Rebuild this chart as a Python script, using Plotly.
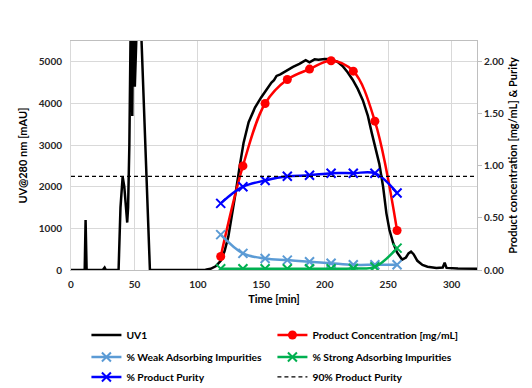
import plotly.graph_objects as go

# UV chromatogram
uv_time = [0, 10.8, 11.5, 12.3, 25, 26.5, 27.5, 37.5, 39, 40.7, 42, 43.5, 44.3, 45, 46, 47, 47.6, 48.3,
           49, 50.3, 51, 53, 55.6, 62.2, 100, 106, 110, 114, 118, 121, 124, 127, 130, 133, 136, 140,
           145, 150, 155, 158, 160, 162, 165, 170, 173, 175, 180, 185, 188, 190, 192, 195, 200, 205,
           210, 214, 218, 222, 226, 230, 234, 237, 240, 243, 246, 248.6, 251, 254, 257, 261, 264, 266,
           268, 270, 273, 277, 281, 288, 293, 294.5, 296, 305, 320]
uv_value = [0, 0, 1200, 0, 0, 60, 0, 0, 1500, 2240, 2000, 1300, 1140, 1500, 3000, 5800, 6500, 3700,
            6500, 4400, 6500, 7000, 5500, 0, 0, 5, 30, 90, 220, 450, 800, 1300, 1900, 2500, 3050, 3550,
            3900, 4150, 4380, 4500, 4560, 4660, 4700, 4800, 4850, 4880, 4950, 5040, 4990, 5030, 5060, 5050, 5070, 5060,
            5000, 4900, 4750, 4570, 4350, 4080, 3700, 3300, 2900, 2550, 2000, 1360, 960, 640, 420, 250, 300, 400,
            440, 380, 220, 120, 80, 50, 60, 175, 50, 35, 30]

# Fraction samples
sample_time = [118, 135.5, 153, 170.5, 188, 205, 222.5, 239.5, 257]
product_conc = [0.13, 1.00, 1.60, 1.83, 1.93, 2.01, 1.91, 1.43, 0.38]
weak_imp = [0.34, 0.16, 0.11, 0.095, 0.08, 0.065, 0.05, 0.05, 0.05]
strong_imp = [0.012, 0.012, 0.012, 0.012, 0.012, 0.012, 0.015, 0.03, 0.21]
purity = [0.64, 0.80, 0.86, 0.90, 0.91, 0.93, 0.93, 0.93, 0.74]

threshold_time = [0, 320]
threshold_value = [0.9, 0.9]

FONT = "Lato"
fig = go.Figure()

fig.add_trace(go.Scatter(x=uv_time, y=uv_value, mode="lines", name="UV1", legend="legend",
                         line=dict(color="black", width=2.5)))
fig.add_trace(go.Scatter(x=sample_time, y=product_conc, mode="lines+markers",
                         name="Product Concentration [mg/mL]", yaxis="y2", legend="legend",
                         line=dict(color="#FF0000", width=2.5, shape="spline"),
                         marker=dict(symbol="circle", size=9, color="#FF0000")))
fig.add_trace(go.Scatter(x=sample_time, y=weak_imp, mode="lines+markers",
                         name="% Weak Adsorbing Impurities", yaxis="y2", legend="legend2",
                         line=dict(color="#5B9BD5", width=2.5, shape="spline"),
                         marker=dict(symbol="x-thin", size=9, line=dict(color="#5B9BD5", width=2))))
fig.add_trace(go.Scatter(x=sample_time, y=strong_imp, mode="lines+markers",
                         name="% Strong Adsorbing Impurities", yaxis="y2", legend="legend2",
                         line=dict(color="#00B050", width=2.5, shape="spline"),
                         marker=dict(symbol="x-thin", size=9, line=dict(color="#00B050", width=2))))
fig.add_trace(go.Scatter(x=sample_time, y=purity, mode="lines+markers",
                         name="% Product Purity", yaxis="y2", legend="legend3",
                         line=dict(color="#0000FF", width=2.5, shape="spline"),
                         marker=dict(symbol="x-thin", size=9, line=dict(color="#0000FF", width=2))))
fig.add_trace(go.Scatter(x=threshold_time, y=threshold_value, mode="lines",
                         name="90% Product Purity", yaxis="y2", legend="legend3",
                         line=dict(color="black", width=1.2, dash="4px,3px")))

grid = "#D9D9D9"
tickfont = dict(family=FONT, size=10, color="#262626", weight="bold")
titlefont = dict(family=FONT, size=11, color="#000000", weight="bold")
legfont = dict(family=FONT, size=10.3, color="#000000", weight="bold")


def leg(yc):
    return dict(orientation="h", x=0.038, xanchor="left", y=yc, yanchor="middle",
                entrywidth=141, entrywidthmode="pixels", traceorder="normal",
                font=legfont, itemwidth=30, bgcolor="rgba(0,0,0,0)")


fig.update_layout(
    width=532, height=388,
    margin=dict(l=71, r=55, t=41, b=118, autoexpand=False),
    paper_bgcolor="white", plot_bgcolor="white",
    font=dict(family=FONT),
    xaxis=dict(range=[0, 320], dtick=50, tick0=0, showgrid=True, gridcolor=grid, gridwidth=1,
               showline=True, linecolor="#BFBFBF", linewidth=1, mirror=True,
               ticks="outside", ticklen=5, tickcolor="rgba(0,0,0,0)",
               tickfont=tickfont, zeroline=False, automargin=False,
               title=dict(text="Time [min]", font=titlefont, standoff=6)),
    yaxis=dict(range=[0, 5500], dtick=1000, showgrid=True, gridcolor=grid, gridwidth=1,
               showline=True, linecolor="#D9D9D9", linewidth=1, zeroline=False,
               ticks="outside", ticklen=6, tickcolor="rgba(0,0,0,0)",
               tickfont=tickfont, automargin=False,
               title=dict(text="UV@280 nm [mAU]", font=titlefont, standoff=8)),
    yaxis2=dict(range=[0, 2.2], dtick=0.5, tickformat=".2f", overlaying="y", side="right",
                showgrid=False, showline=True, linecolor="#BFBFBF", linewidth=1, zeroline=False,
                ticks="outside", ticklen=4, tickcolor="#BFBFBF",
                tickfont=tickfont, automargin=False,
                title=dict(text="Product concentration [mg/mL] & Purity", font=titlefont, standoff=6)),
    legend=leg(-0.284),
    legend2=leg(-0.380),
    legend3=leg(-0.467),
    showlegend=True,
)

fig.write_html("out.html", config={"displayModeBar": False},
               post_script="document.body.style.margin='0';")
